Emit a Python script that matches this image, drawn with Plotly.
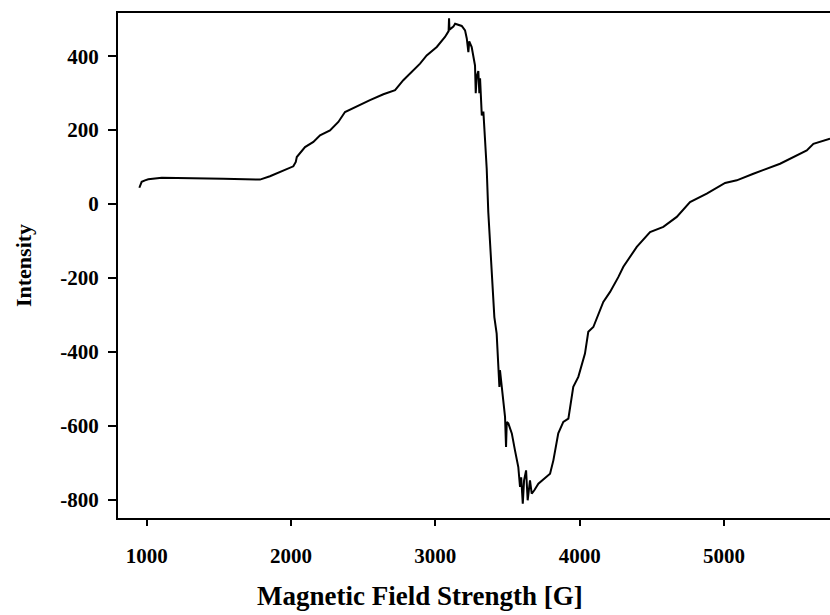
import plotly.graph_objects as go

field = [949, 965, 988, 1011, 1104, 1369, 1531, 1785, 1854, 2016, 2033, 2040, 2097, 2155,
         2201, 2270, 2328, 2374, 2455, 2547, 2640, 2721, 2778, 2825, 2894, 2940, 3010, 3067,
         3092, 3095, 3098, 3125, 3137, 3183, 3206, 3218, 3229, 3235, 3245, 3252, 3275, 3280,
         3287, 3298, 3305, 3310, 3322, 3333, 3344, 3356, 3367, 3379, 3391, 3402, 3409, 3425,
         3437, 3444, 3448, 3471, 3483, 3490, 3495, 3506, 3530, 3552, 3575, 3587, 3595, 3606,
         3615, 3629, 3640, 3656, 3668, 3686, 3714, 3795, 3818, 3852, 3887, 3922, 3956, 3991,
         4037, 4060, 4095, 4164, 4211, 4268, 4303, 4396, 4488, 4580, 4673, 4765, 4881, 5008,
         5089, 5204, 5389, 5574, 5620, 5735]
intensity = [44, 60, 64, 67, 71, 70, 68, 66, 75, 102, 114, 127, 154, 168,
             186, 199, 222, 249, 265, 281, 297, 308, 335, 353, 380, 402, 425, 452,
             468, 503, 472, 480, 488, 482, 470, 448, 411, 440, 430, 425, 375, 300,
             345, 360, 300, 340, 240, 250, 177, 96, -22, -103, -160, -234, -306, -351,
             -432, -495, -450, -522, -576, -658, -590, -594, -621, -667, -712, -766, -740, -811,
             -748, -721, -802, -748, -784, -775, -757, -730, -694, -621, -590, -581, -495, -468,
             -405, -346, -333, -265, -238, -198, -170, -116, -76, -62, -35, 5, 28, 57,
             64, 82, 109, 145, 163, 177]

x_ticks = [1000, 2000, 3000, 4000, 5000]
y_ticks = [-800, -600, -400, -200, 0, 200, 400]

font_family = "Liberation Serif"

fig = go.Figure()
fig.add_trace(go.Scatter(
    x=field, y=intensity, mode="lines",
    line=dict(color="black", width=2),
    showlegend=False,
))

fig.update_layout(
    width=830, height=615,
    margin=dict(l=118, r=0, t=13, b=97),
    paper_bgcolor="white", plot_bgcolor="white",
    font=dict(family=font_family, color="black"),
    xaxis=dict(
        range=[801, 5735],
        tickvals=x_ticks,
        ticktext=[str(v) for v in x_ticks],
        ticks="outside", ticklen=6, tickwidth=1.5, tickcolor="black",
        ticklabelstandoff=12,
        showline=True, linecolor="black", linewidth=2, mirror=True,
        showgrid=False, zeroline=False,
        tickfont=dict(family=font_family, size=21, color="black", weight="bold"),
    ),
    yaxis=dict(
        range=[-850, 517],
        tickvals=y_ticks,
        ticktext=[str(v) for v in y_ticks],
        ticks="outside", ticklen=8, tickwidth=1.5, tickcolor="black",
        ticklabelstandoff=5,
        showline=True, linecolor="black", linewidth=2, mirror=False,
        showgrid=False, zeroline=False,
        tickfont=dict(family=font_family, size=21, color="black", weight="bold"),
        title=dict(text="<b>Intensity</b>",
                   font=dict(family=font_family, size=22, color="black"),
                   standoff=23),
    ),
    annotations=[dict(
        text="<b>Magnetic Field Strength [G]</b>",
        xref="paper", yref="paper",
        x=(420 - 118) / 712, y=-(596 - 518) / 505,
        xanchor="center", yanchor="middle", showarrow=False,
        font=dict(family=font_family, size=27, color="black"),
    )],
)

fig.write_html("out.html")
